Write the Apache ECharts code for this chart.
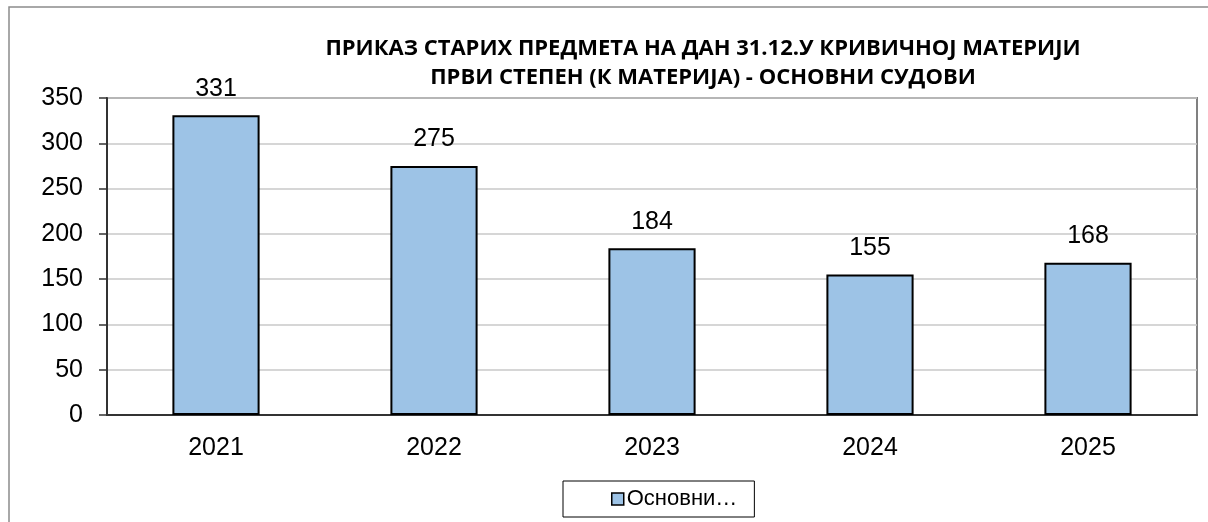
<!DOCTYPE html>
<html>
<head>
<meta charset="utf-8">
<script src="https://cdn.jsdelivr.net/npm/echarts@6/dist/echarts.min.js"></script>
<style>
  html, body { margin: 0; padding: 0; background: #fff; }
  #chart { width: 1208px; height: 522px; }
</style>
</head>
<body>
<div id="chart"></div>
<script>
const years = ['2021', '2022', '2023', '2024', '2025']
const oldCases = [331, 275, 184, 155, 168]
const seriesName = 'Основни…'
const titleText = 'ПРИКАЗ СТАРИХ ПРЕДМЕТА НА ДАН 31.12.У КРИВИЧНОЈ МАТЕРИЈИ\nПРВИ СТЕПЕН (К МАТЕРИЈА) - ОСНОВНИ СУДОВИ'

const numFont = 'Liberation Sans'
const barColor = '#9dc3e6'

let chart = echarts.init(document.getElementById('chart'))
chart.setOption({
  animation: false,
  backgroundColor: '#fff',
  graphic: [
    {
      type: 'rect',
      shape: { x: 9, y: 7, width: 1300, height: 600 },
      style: { fill: 'none', stroke: '#8c8c8c', lineWidth: 1.5 },
      silent: true,
      z: -1
    }
  ],
  title: {
    text: titleText,
    left: 698,
    top: 29,
    textAlign: 'center',
    textStyle: {
      fontFamily: "'Open Sans', sans-serif",
      fontWeight: 'bold',
      fontSize: 22,
      lineHeight: 29,
      color: '#000'
    }
  },
  grid: {
    left: 107,
    right: 11,
    top: 98,
    bottom: 107,
    show: true,
    borderColor: '#808080',
    borderWidth: 2
  },
  legend: {
    left: 563,
    top: 481,
    padding: [7, 17, 7, 48],
    borderColor: '#000',
    borderWidth: 1,
    itemWidth: 12,
    itemHeight: 12,
    icon: 'rect',
    itemStyle: { color: barColor, borderColor: '#000', borderWidth: 1.5 },
    textStyle: { fontFamily: numFont, fontSize: 22, color: '#000', padding: [0, 0, 0, -2] },
    data: [seriesName]
  },
  xAxis: {
    type: 'category',
    data: years,
    axisLine: { lineStyle: { color: '#333', width: 2 } },
    axisTick: { length: 7, lineStyle: { color: '#333', width: 1.5 } },
    axisLabel: { fontFamily: numFont, fontSize: 25, color: '#000', margin: 21 }
  },
  yAxis: {
    type: 'value',
    min: 0,
    max: 350,
    interval: 50,
    axisLine: { show: true, lineStyle: { color: '#333', width: 2 } },
    axisTick: { show: true, length: 8, lineStyle: { color: '#333', width: 1.5 } },
    axisLabel: { fontFamily: numFont, fontSize: 25, color: '#000', margin: 24 },
    splitLine: { lineStyle: { color: '#c8c8c8', width: 1.5 } }
  },
  series: [
    {
      name: seriesName,
      type: 'bar',
      data: oldCases,
      barCategoryGap: '60%',
      itemStyle: { color: barColor, borderColor: '#000', borderWidth: 2 },
      label: {
        show: true,
        position: 'top',
        distance: 14,
        fontFamily: numFont,
        fontSize: 25,
        color: '#000'
      }
    }
  ]
})
</script>
</body>
</html>
